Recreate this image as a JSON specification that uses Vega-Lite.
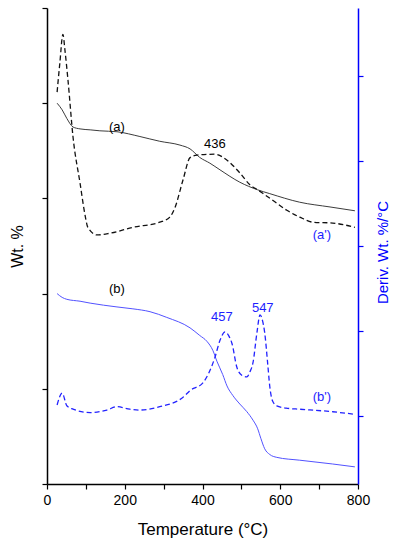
{
  "$schema": "https://vega.github.io/schema/vega-lite/v6.json",
  "width": 311,
  "height": 476,
  "autosize": {"type": "none"},
  "padding": {"left": 47, "top": 8, "right": 41, "bottom": 66},
  "background": "white",
  "config": {
    "view": {"stroke": null},
    "font": "Liberation Sans",
    "axis": {"grid": false, "labelFont": "Liberation Sans", "titleFont": "Liberation Sans", "titleFontWeight": "normal"}
  },
  "datasets": {
    "curves": [
      {"s": "a", "k": "TG", "T": 26, "v": 4.00}, {"s": "a", "k": "TG", "T": 39, "v": 3.93}, {"s": "a", "k": "TG", "T": 51, "v": 3.84},
      {"s": "a", "k": "TG", "T": 67, "v": 3.75}, {"s": "a", "k": "TG", "T": 85, "v": 3.73}, {"s": "a", "k": "TG", "T": 111, "v": 3.72},
      {"s": "a", "k": "TG", "T": 136, "v": 3.71}, {"s": "a", "k": "TG", "T": 180, "v": 3.70}, {"s": "a", "k": "TG", "T": 239, "v": 3.65},
      {"s": "a", "k": "TG", "T": 290, "v": 3.60}, {"s": "a", "k": "TG", "T": 342, "v": 3.56}, {"s": "a", "k": "TG", "T": 368, "v": 3.52},
      {"s": "a", "k": "TG", "T": 393, "v": 3.43}, {"s": "a", "k": "TG", "T": 419, "v": 3.37}, {"s": "a", "k": "TG", "T": 445, "v": 3.30},
      {"s": "a", "k": "TG", "T": 496, "v": 3.17}, {"s": "a", "k": "TG", "T": 542, "v": 3.09}, {"s": "a", "k": "TG", "T": 573, "v": 3.05},
      {"s": "a", "k": "TG", "T": 650, "v": 2.96}, {"s": "a", "k": "TG", "T": 728, "v": 2.91}, {"s": "a", "k": "TG", "T": 792, "v": 2.87},

      {"s": "b", "k": "TG", "T": 26, "v": 2.00}, {"s": "b", "k": "TG", "T": 39, "v": 1.96}, {"s": "b", "k": "TG", "T": 51, "v": 1.94},
      {"s": "b", "k": "TG", "T": 85, "v": 1.92}, {"s": "b", "k": "TG", "T": 111, "v": 1.90}, {"s": "b", "k": "TG", "T": 180, "v": 1.86},
      {"s": "b", "k": "TG", "T": 221, "v": 1.84}, {"s": "b", "k": "TG", "T": 265, "v": 1.81}, {"s": "b", "k": "TG", "T": 308, "v": 1.75},
      {"s": "b", "k": "TG", "T": 368, "v": 1.64}, {"s": "b", "k": "TG", "T": 393, "v": 1.56}, {"s": "b", "k": "TG", "T": 411, "v": 1.50},
      {"s": "b", "k": "TG", "T": 427, "v": 1.40}, {"s": "b", "k": "TG", "T": 437, "v": 1.29}, {"s": "b", "k": "TG", "T": 452, "v": 1.15},
      {"s": "b", "k": "TG", "T": 463, "v": 1.03}, {"s": "b", "k": "TG", "T": 478, "v": 0.93}, {"s": "b", "k": "TG", "T": 496, "v": 0.84},
      {"s": "b", "k": "TG", "T": 514, "v": 0.76}, {"s": "b", "k": "TG", "T": 530, "v": 0.67}, {"s": "b", "k": "TG", "T": 542, "v": 0.58},
      {"s": "b", "k": "TG", "T": 550, "v": 0.48}, {"s": "b", "k": "TG", "T": 560, "v": 0.37}, {"s": "b", "k": "TG", "T": 573, "v": 0.31},
      {"s": "b", "k": "TG", "T": 591, "v": 0.28}, {"s": "b", "k": "TG", "T": 650, "v": 0.25}, {"s": "b", "k": "TG", "T": 735, "v": 0.21},
      {"s": "b", "k": "TG", "T": 792, "v": 0.18},

      {"s": "a'", "k": "DTG", "T": 26, "v": 3.81}, {"s": "a'", "k": "DTG", "T": 33, "v": 4.15}, {"s": "a'", "k": "DTG", "T": 41, "v": 4.49},
      {"s": "a'", "k": "DTG", "T": 46, "v": 4.31}, {"s": "a'", "k": "DTG", "T": 54, "v": 3.95}, {"s": "a'", "k": "DTG", "T": 67, "v": 3.28},
      {"s": "a'", "k": "DTG", "T": 85, "v": 2.74}, {"s": "a'", "k": "DTG", "T": 98, "v": 2.36}, {"s": "a'", "k": "DTG", "T": 105, "v": 2.22},
      {"s": "a'", "k": "DTG", "T": 129, "v": 2.13}, {"s": "a'", "k": "DTG", "T": 162, "v": 2.15}, {"s": "a'", "k": "DTG", "T": 221, "v": 2.22},
      {"s": "a'", "k": "DTG", "T": 290, "v": 2.28}, {"s": "a'", "k": "DTG", "T": 316, "v": 2.34}, {"s": "a'", "k": "DTG", "T": 329, "v": 2.45},
      {"s": "a'", "k": "DTG", "T": 350, "v": 2.78}, {"s": "a'", "k": "DTG", "T": 368, "v": 3.04}, {"s": "a'", "k": "DTG", "T": 386, "v": 3.07},
      {"s": "a'", "k": "DTG", "T": 432, "v": 3.08}, {"s": "a'", "k": "DTG", "T": 463, "v": 3.01}, {"s": "a'", "k": "DTG", "T": 496, "v": 2.86},
      {"s": "a'", "k": "DTG", "T": 522, "v": 2.72}, {"s": "a'", "k": "DTG", "T": 542, "v": 2.66}, {"s": "a'", "k": "DTG", "T": 555, "v": 2.62},
      {"s": "a'", "k": "DTG", "T": 586, "v": 2.52}, {"s": "a'", "k": "DTG", "T": 617, "v": 2.42}, {"s": "a'", "k": "DTG", "T": 650, "v": 2.34},
      {"s": "a'", "k": "DTG", "T": 684, "v": 2.28}, {"s": "a'", "k": "DTG", "T": 735, "v": 2.27}, {"s": "a'", "k": "DTG", "T": 792, "v": 2.22},

      {"s": "b'", "k": "DTG", "T": 26, "v": 0.13}, {"s": "b'", "k": "DTG", "T": 39, "v": 0.27}, {"s": "b'", "k": "DTG", "T": 51, "v": 0.12},
      {"s": "b'", "k": "DTG", "T": 67, "v": 0.08}, {"s": "b'", "k": "DTG", "T": 111, "v": 0.04}, {"s": "b'", "k": "DTG", "T": 154, "v": 0.07},
      {"s": "b'", "k": "DTG", "T": 180, "v": 0.11}, {"s": "b'", "k": "DTG", "T": 213, "v": 0.08}, {"s": "b'", "k": "DTG", "T": 239, "v": 0.07},
      {"s": "b'", "k": "DTG", "T": 290, "v": 0.11}, {"s": "b'", "k": "DTG", "T": 350, "v": 0.22}, {"s": "b'", "k": "DTG", "T": 368, "v": 0.30},
      {"s": "b'", "k": "DTG", "T": 401, "v": 0.39}, {"s": "b'", "k": "DTG", "T": 432, "v": 0.69}, {"s": "b'", "k": "DTG", "T": 445, "v": 0.89},
      {"s": "b'", "k": "DTG", "T": 458, "v": 0.99}, {"s": "b'", "k": "DTG", "T": 468, "v": 0.94}, {"s": "b'", "k": "DTG", "T": 476, "v": 0.85},
      {"s": "b'", "k": "DTG", "T": 488, "v": 0.58}, {"s": "b'", "k": "DTG", "T": 501, "v": 0.48}, {"s": "b'", "k": "DTG", "T": 514, "v": 0.46},
      {"s": "b'", "k": "DTG", "T": 522, "v": 0.52}, {"s": "b'", "k": "DTG", "T": 530, "v": 0.63}, {"s": "b'", "k": "DTG", "T": 540, "v": 0.98},
      {"s": "b'", "k": "DTG", "T": 548, "v": 1.19}, {"s": "b'", "k": "DTG", "T": 555, "v": 1.11}, {"s": "b'", "k": "DTG", "T": 560, "v": 0.98},
      {"s": "b'", "k": "DTG", "T": 568, "v": 0.60}, {"s": "b'", "k": "DTG", "T": 573, "v": 0.35}, {"s": "b'", "k": "DTG", "T": 580, "v": 0.18},
      {"s": "b'", "k": "DTG", "T": 591, "v": 0.12}, {"s": "b'", "k": "DTG", "T": 620, "v": 0.09}, {"s": "b'", "k": "DTG", "T": 650, "v": 0.08},
      {"s": "b'", "k": "DTG", "T": 735, "v": 0.05}, {"s": "b'", "k": "DTG", "T": 792, "v": 0.02}
    ],
    "labels": [
      {"text": "(a)", "k": "TG", "T": 180, "v": 3.75},
      {"text": "(b)", "k": "TG", "T": 180, "v": 2.05},
      {"text": "436", "k": "DTG", "T": 432, "v": 3.20},
      {"text": "(a')", "k": "DTG", "T": 707, "v": 2.13},
      {"text": "457", "k": "DTG", "T": 450, "v": 1.16},
      {"text": "547", "k": "DTG", "T": 555, "v": 1.27},
      {"text": "(b')", "k": "DTG", "T": 707, "v": 0.22}
    ]
  },
  "encoding": {
    "x": {
      "field": "T",
      "type": "quantitative",
      "scale": {"domain": [0, 800], "nice": false, "zero": false},
      "axis": {
        "title": "Temperature (°C)",
        "titleFontSize": 17,
        "titleColor": "black",
        "titlePadding": 14,
        "values": [0, 100, 200, 300, 400, 500, 600, 700, 800],
        "labelExpr": "datum.value % 200 === 0 ? datum.label : ''",
        "labelFontSize": 14,
        "labelColor": "black",
        "labelPadding": 4,
        "labelFlush": false,
        "tickSize": 5,
        "tickColor": "black",
        "tickWidth": 1.2,
        "domainColor": "black",
        "domainWidth": 1.5,
        "encode": {"ticks": {"update": {"y2": {"signal": "datum.value % 200 === 0 ? 5 : 3"}}}}
      }
    }
  },
  "layer": [
    {
      "encoding": {
        "y": {
          "field": "v",
          "type": "quantitative",
          "scale": {"domain": [0, 5], "nice": false, "zero": false},
          "axis": {
            "orient": "left",
            "title": "Wt. %",
            "titleFontSize": 16,
            "titleColor": "black",
            "titlePadding": 16,
            "labels": false,
            "values": [0, 1, 2, 3, 4, 5],
            "tickSize": 5,
            "tickColor": "black",
            "tickWidth": 1.2,
            "domainColor": "black",
            "domainWidth": 1.5
          }
        }
      },
      "layer": [
        {
          "data": {"name": "curves"},
          "transform": [{"filter": "datum.k === 'TG'"}],
          "mark": {"type": "line", "strokeWidth": 1, "interpolate": "monotone"},
          "encoding": {
            "color": {"field": "s", "type": "nominal", "legend": null,
              "scale": {"domain": ["a", "a'", "b", "b'"], "range": ["#3c3c3c", "#111111", "#5252ff", "#2222ff"]}}
          }
        },
        {
          "data": {"name": "labels"},
          "transform": [{"filter": "datum.k === 'TG'"}],
          "mark": {"type": "text", "fontSize": 13, "color": "black", "baseline": "middle", "align": "center", "font": "Liberation Sans"},
          "encoding": {"text": {"field": "text"}}
        }
      ]
    },
    {
      "encoding": {
        "y": {
          "field": "v",
          "type": "quantitative",
          "scale": {"domain": [-0.8, 4.8], "nice": false, "zero": false},
          "axis": {
            "orient": "right",
            "title": "Deriv. Wt. %/°C",
            "titleFontSize": 15,
            "titleColor": "#0000ff",
            "titleAngle": 270,
            "titleBaseline": "top",
            "titleAlign": "center",
            "titleX": 17,
            "titleY": 244,
            "labels": false,
            "values": [0, 1, 2, 3, 4],
            "tickSize": 5,
            "tickColor": "#0000ff",
            "tickWidth": 1.2,
            "domainColor": "#0000ff",
            "domainWidth": 1.5
          }
        }
      },
      "layer": [
        {
          "data": {"name": "curves"},
          "transform": [{"filter": "datum.k === 'DTG'"}],
          "mark": {"type": "line", "strokeWidth": 1.3, "strokeDash": [5, 3], "interpolate": "monotone"},
          "encoding": {
            "color": {"field": "s", "type": "nominal", "legend": null,
              "scale": {"domain": ["a", "a'", "b", "b'"], "range": ["#3c3c3c", "#111111", "#5252ff", "#2222ff"]}}
          }
        },
        {
          "data": {"name": "labels"},
          "transform": [{"filter": "datum.k === 'DTG' && datum.text === '436'"}],
          "mark": {"type": "text", "fontSize": 13, "color": "black", "baseline": "middle", "align": "center", "font": "Liberation Sans"},
          "encoding": {"text": {"field": "text"}}
        },
        {
          "data": {"name": "labels"},
          "transform": [{"filter": "datum.k === 'DTG' && datum.text !== '436'"}],
          "mark": {"type": "text", "fontSize": 13, "color": "#1e1eff", "baseline": "middle", "align": "center", "font": "Liberation Sans"},
          "encoding": {"text": {"field": "text"}}
        }
      ]
    }
  ],
  "resolve": {"scale": {"y": "independent"}}
}
